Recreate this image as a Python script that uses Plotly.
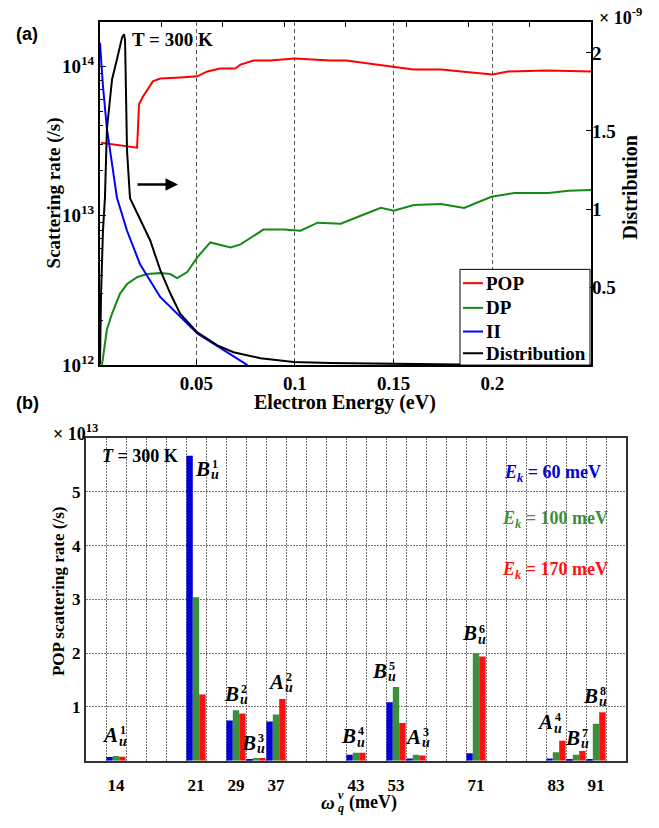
import plotly.graph_objects as go

# ---------------- data: panel (a) ----------------
pop_energy = [0.0017, 0.020, 0.021, 0.023, 0.028, 0.0317, 0.042, 0.0505, 0.0556, 0.062, 0.0698,
              0.0724, 0.079, 0.0875, 0.0998, 0.118, 0.126, 0.1333, 0.150, 0.160, 0.174, 0.188,
              0.200, 0.208, 0.228, 0.250]
pop_rate = [3.09e13, 2.86e13, 5.6e13, 6.3e13, 7.95e13, 8.3e13, 8.45e13, 8.6e13, 9.27e13, 9.7e13, 9.7e13,
            1.03e14, 1.096e14, 1.096e14, 1.13e14, 1.096e14, 1.096e14, 1.063e14, 1.0e14, 9.55e13, 9.55e13,
            9.12e13, 8.85e13, 9.27e13, 9.4e13, 9.27e13]

dp_energy = [0.0022, 0.0047, 0.0073, 0.0113, 0.0149, 0.020, 0.025, 0.0317, 0.0368, 0.0403, 0.0454,
             0.0505, 0.0571, 0.0673, 0.0724, 0.084, 0.0942, 0.1028, 0.1115, 0.1232, 0.1333, 0.1435,
             0.150, 0.1603, 0.174, 0.1857, 0.1995, 0.2112, 0.2285, 0.2386, 0.250]
dp_rate = [1.0e12, 1.73e12, 2.21e12, 3.0e12, 3.49e12, 3.88e12, 4.07e12, 4.13e12, 4.07e12, 3.83e12, 4.2e12,
           5.27e12, 6.63e12, 6.14e12, 6.43e12, 8.08e12, 8.08e12, 7.95e12, 8.99e12, 8.85e12, 1.0e13, 1.13e13,
           1.08e13, 1.18e13, 1.2e13, 1.13e13, 1.34e13, 1.42e13, 1.42e13, 1.47e13, 1.49e13]

ii_energy = [0.0012, 0.0027, 0.0047, 0.0078, 0.0098, 0.0149, 0.0215, 0.0317, 0.0418, 0.0505, 0.0607,
             0.0688, 0.0759]
ii_rate = [1.44e14, 7.4e13, 3.83e13, 1.99e13, 1.32e13, 7.94e12, 4.73e12, 2.86e12, 2.11e12, 1.63e12,
           1.34e12, 1.15e12, 1.0e12]

dist_energy = [0.0012, 0.0017, 0.0027, 0.0037, 0.0047, 0.0063, 0.0073, 0.0098, 0.0124, 0.0134, 0.0139,
               0.0149, 0.0164, 0.0175, 0.0215, 0.0266, 0.0317, 0.0368, 0.0418, 0.0505, 0.0607, 0.0688,
               0.0825, 0.0993, 0.118, 0.184, 0.250]
dist_value = [0.006, 0.44, 0.86, 1.07, 1.51, 1.70, 1.83, 1.96, 2.10, 2.12, 2.08,
              1.37, 1.07, 1.04, 0.93, 0.80, 0.61, 0.46, 0.33, 0.21, 0.126, 0.082,
              0.044, 0.019, 0.013, 0.003, 0.0]   # x 1e-9

energy_ticks = [0.05, 0.1, 0.15, 0.2]
energy_ticklabels = ["0.05", "0.1", "0.15", "0.2"]
rate_ticks = [1e12, 1e13, 1e14]
rate_ticklabels = ["10<sup>12</sup>", "10<sup>13</sup>", "10<sup>14</sup>"]
dist_ticks = [0, 0.5, 1, 1.5, 2]
dist_ticklabels = ["", "0.5", "1", "1.5", "2"]
series_names = ["POP", "DP", "II", "Distribution"]

# ---------------- data: panel (b) ----------------
mode_letter = ["A", "B", "B", "B", "A", "B", "B", "A", "B", "A", "B", "B"]
mode_index = ["1", "1", "2", "3", "2", "4", "5", "3", "6", "4", "7", "8"]
mode_slot = [1, 5, 7, 8, 9, 13, 15, 16, 19, 23, 24, 25]
rate_60meV = [0.07, 5.67, 0.75, 0.03, 0.73, 0.11, 1.09, 0.04, 0.14, 0.04, 0.015, 0.015]
rate_100meV = [0.09, 3.04, 0.94, 0.05, 0.86, 0.15, 1.37, 0.11, 2.00, 0.16, 0.11, 0.69]
rate_170meV = [0.075, 1.23, 0.88, 0.05, 1.15, 0.15, 0.70, 0.10, 1.94, 0.37, 0.18, 0.90]
freq_slot = [1, 5, 7, 9, 13, 15, 19, 23, 25]
freq_label = ["14", "21", "29", "37", "43", "53", "71", "83", "91"]
n_slots = 27
pop_ticks = [1, 2, 3, 4, 5]

# ---------------- styling ----------------
W, H = 659, 828
SERIF = "Times New Roman, Liberation Serif, serif"
SANS = "Arial, Liberation Sans, sans-serif"
RED, GREEN, BLUE, BLACK = "#ff0000", "#138a13", "#0000ff", "#000000"
BAR_BLUE, BAR_GREEN, BAR_RED = "#0000d8", "#3d8f3d", "#ff1010"
series_colors = [RED, GREEN, BLUE, BLACK]


def X(px):
    return px / W


def Y(py):
    return 1 - py / H


fig = go.Figure()

# panel (a) traces
fig.add_trace(go.Scatter(x=pop_energy, y=pop_rate, name=series_names[0], mode="lines",
                         line=dict(color=RED, width=2), xaxis="x", yaxis="y"))
fig.add_trace(go.Scatter(x=dp_energy, y=dp_rate, name=series_names[1], mode="lines",
                         line=dict(color=GREEN, width=2), xaxis="x", yaxis="y"))
fig.add_trace(go.Scatter(x=ii_energy, y=ii_rate, name=series_names[2], mode="lines",
                         line=dict(color=BLUE, width=2), xaxis="x", yaxis="y"))
fig.add_trace(go.Scatter(x=dist_energy, y=dist_value, name=series_names[3], mode="lines",
                         line=dict(color=BLACK, width=2), xaxis="x", yaxis="y2"))
# carrier for the top tick axis
fig.add_trace(go.Scatter(x=[0, 8], y=[1e12, 1e12], mode="lines", line=dict(width=0),
                         opacity=0, showlegend=False, hoverinfo="skip", xaxis="x2", yaxis="y"))

# panel (b) bars
bar_x = [s + 0.5 for s in mode_slot]
for vals, col, nm in [(rate_60meV, BAR_BLUE, "60 meV"), (rate_100meV, BAR_GREEN, "100 meV"),
                      (rate_170meV, BAR_RED, "170 meV")]:
    fig.add_trace(go.Bar(x=bar_x, y=vals, marker=dict(color=col, line=dict(width=0)),
                         name=nm, xaxis="x3", yaxis="y3"))

tick_font_a = dict(family=SERIF, size=19, color="black", weight="bold")
tick_font_b = dict(family=SERIF, size=17, color="black", weight="bold")

fig.update_layout(
    width=W, height=H, margin=dict(l=0, r=0, t=0, b=0),
    paper_bgcolor="white", plot_bgcolor="white",
    barmode="group", bargap=0.04, bargroupgap=0,
    showlegend=False,
    xaxis=dict(domain=[X(100), X(591)], range=[0.0012, 0.25], anchor="y",
               tickvals=energy_ticks, ticktext=energy_ticklabels, tickfont=tick_font_a,
               ticks="inside", ticklen=5, tickcolor="black",
               showline=True, linecolor="black", linewidth=2, mirror=True,
               showgrid=True, gridcolor="#555555", griddash="4px,3px", gridwidth=1,
               zeroline=False),
    xaxis2=dict(overlaying="x", side="top", range=[0, 8], anchor="y",
                tickvals=[1, 2, 3, 4, 5, 6, 7], showticklabels=False,
                ticks="inside", ticklen=5, tickcolor="black",
                showgrid=False, showline=False, zeroline=False),
    yaxis=dict(domain=[Y(370), Y(22)], type="log", range=[12, 14.3], anchor="x",
               tickvals=rate_ticks, ticktext=rate_ticklabels, tickfont=tick_font_a,
               ticks="inside", ticklen=6, tickcolor="black",
               minor=dict(tickvals=[k * 10 ** e for e in (12, 13) for k in range(2, 10)] + [2e14],
                          ticks="inside", ticklen=3, tickcolor="black", showgrid=False),
               showline=True, linecolor="black", linewidth=2, mirror=True,
               showgrid=False, zeroline=False),
    yaxis2=dict(overlaying="y", side="right", range=[0, 2.2], anchor="x",
                tickvals=dist_ticks, ticktext=dist_ticklabels, tickfont=tick_font_a,
                ticks="inside", ticklen=5, tickcolor="black",
                showgrid=False, showline=False, zeroline=False),
    xaxis3=dict(domain=[X(86), X(626)], range=[0, n_slots], anchor="y3",
                tickvals=[s + 0.5 for s in freq_slot], ticktext=freq_label, tickfont=tick_font_b,
                ticks="", showgrid=False, ticklabelstandoff=8,
                minor=dict(tickvals=list(range(1, n_slots)), showgrid=True, gridcolor="#777777",
                           griddash="2px,1px", gridwidth=1, ticks=""),
                showline=True, linecolor="#333333", linewidth=2, mirror=True, zeroline=False),
    yaxis3=dict(domain=[Y(771), Y(444)], range=[0, 6], anchor="x3",
                tickvals=pop_ticks, tickfont=tick_font_b, ticks="",
                showgrid=True, gridcolor="#777777", griddash="2px,1px", gridwidth=1,
                showline=True, linecolor="#333333", linewidth=2, mirror=True, zeroline=False),
)

ann = []
shapes = []


def text(px, py, s, size=19, color="black", family=SERIF, angle=0, xanchor="center", weight="bold"):
    ann.append(dict(x=X(px), y=Y(py), xref="paper", yref="paper", text=s, showarrow=False,
                    font=dict(family=family, size=size, color=color, weight=weight),
                    textangle=angle, xanchor=xanchor, yanchor="middle", borderpad=0))


# legend for panel (a), drawn as a box of line swatches and labels
shapes.append(dict(type="rect", xref="paper", yref="paper", x0=X(460), x1=X(590), y0=Y(370), y1=Y(273),
                   line=dict(color="black", width=1), fillcolor="white", layer="above"))
for i, (nm, col) in enumerate(zip(series_names, series_colors)):
    yy = [287, 312, 336, 358][i]
    shapes.append(dict(type="line", xref="paper", yref="paper", x0=X(463), x1=X(483), y0=Y(yy), y1=Y(yy),
                       line=dict(color=col, width=2), layer="above"))
    text(485, yy, nm, size=19, xanchor="left")

# panel (a) texts
text(27, 34, "(a)", size=18, family=SANS)
text(172, 40, "T = 300 K", size=19)
text(54, 196, "Scattering rate (/s)", size=19, angle=-90)
text(630, 190, "Distribution", size=20, angle=-90)
text(345, 408, "Electron Energy (eV)", size=20)
text(620, 17, "× 10<sup>-9</sup>", size=18)
ann.append(dict(x=X(178), y=Y(187), xref="paper", yref="paper", ax=-42, ay=0,
                axref="pixel", ayref="pixel", text="", showarrow=True, arrowhead=2,
                arrowsize=1, arrowwidth=2.5, arrowcolor="black"))

# panel (b) texts
text(27, 408, "(b)", size=18, family=SANS)
text(75, 438, "× 10<sup>13</sup>", size=18)
text(140, 462, "<i>T</i> = 300 K", size=18)
text(552, 480, "<i>E</i><sub><i>k</i></sub> = 60 meV", size=18, color=BAR_BLUE)
text(555, 527, "<i>E</i><sub><i>k</i></sub> = 100 meV", size=18, color=BAR_GREEN)
text(555, 578, "<i>E</i><sub><i>k</i></sub> = 170 meV", size=18, color=BAR_RED)
text(58, 600, "POP scattering rate (/s)", size=17, angle=-90)

# omega_q^nu (meV)
text(336, 813, "<i>ω</i>", size=19, xanchor="right")
text(337, 806, "<i>ν</i>", size=12, xanchor="left")
text(337, 819, "<i>q</i>", size=12, xanchor="left")
text(373, 813, "(meV)", size=18)

# mode labels (centre pixel of each label)
label_pos = [(117, 745), (209, 475), (238, 703), (255, 753), (283, 691), (355, 746),
             (386, 680), (420, 747), (476, 642), (552, 732), (579, 748), (597, 705)]
for (cx, cy), L, d in zip(label_pos, mode_letter, mode_index):
    text(cx + 2, cy, "<i>" + L + "</i>", size=21, xanchor="right")
    text(cx + 2, cy - 5, d, size=12, xanchor="left")
    text(cx + 1, cy + 6, "<i>u</i>", size=14, xanchor="left")

fig.update_layout(annotations=ann, shapes=shapes)

post = """
[document.documentElement, document.body].forEach(function(e){
  e.style.margin='0'; e.style.padding='0'; e.style.overflow='hidden'; e.style.height='828px';
});
"""
fig.write_html("out.html", config={"displayModeBar": False}, post_script=post)
